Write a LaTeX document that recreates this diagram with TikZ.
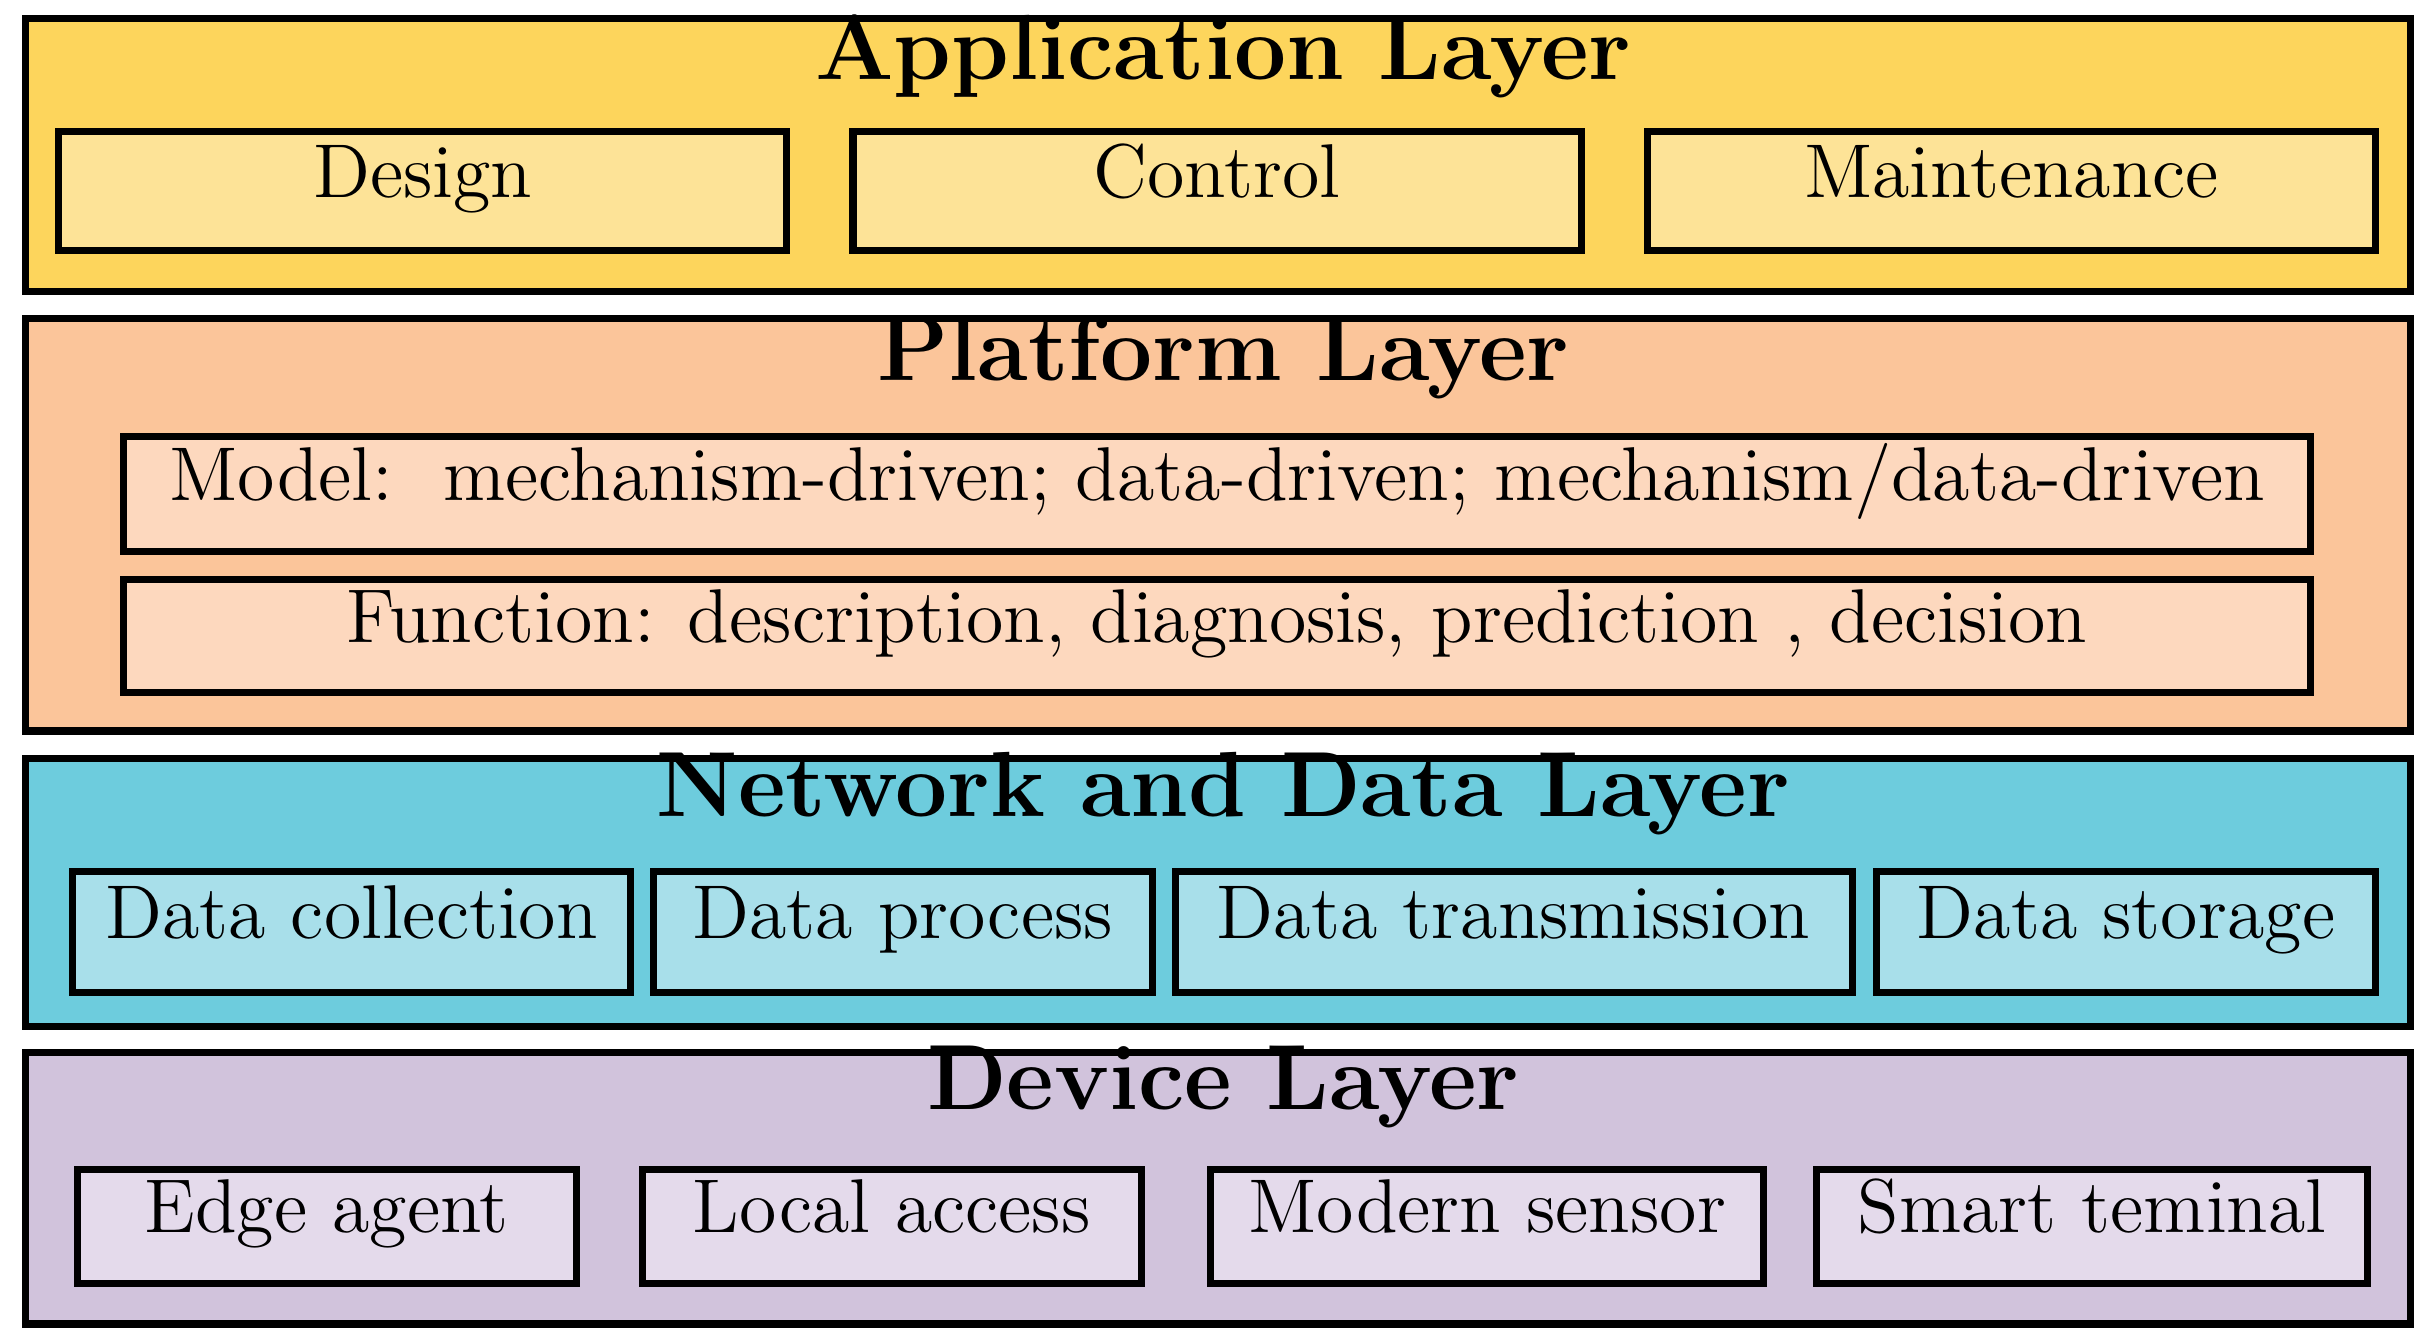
\documentclass[tikz,border=0pt]{standalone}
\usepackage{xcolor}
\usepackage{tikz}
\usetikzlibrary{positioning}
\definecolor{appbg}{HTML}{FDD55C}
\definecolor{appbox}{HTML}{FDE397}
\definecolor{platbg}{HTML}{FBC59A}
\definecolor{platbox}{HTML}{FDD8BE}
\definecolor{netbg}{HTML}{6DCCDD}
\definecolor{netbox}{HTML}{A8DFEA}
\definecolor{devbg}{HTML}{D1C3DC}
\definecolor{devbox}{HTML}{E4DAEB}
\tikzset{
  layer/.style={draw, line width=1.3pt, inner sep=0pt},
  title/.style={font=\fontsize{17}{20}\selectfont\bfseries, text height=1.2ex, text depth=0.75ex},
  item/.style={draw, line width=1.3pt, font=\fontsize{14}{17}\selectfont, inner sep=0pt, text height=1.3ex, text depth=0.75ex}
}
\begin{document}
\begin{tikzpicture}[x=0.01cm, y=-0.01cm]
\useasboundingbox (0,0) rectangle (1568,866);
% application
\node[layer, fill=appbg, minimum width=15.39cm, minimum height=1.76cm] (app) at (786.5,100) {};
\node[title] (apptitle) at (790,48) {Application Layer};
\node[item, fill=appbox, minimum width=4.7cm, minimum height=0.77cm] (design) at (273,123.5) {Design};
\node[item, fill=appbox, minimum width=4.7cm, minimum height=0.77cm] (control) at (786,123.5) {Control};
\node[item, fill=appbox, minimum width=4.7cm, minimum height=0.77cm] (maint) at (1299,123.5) {Maintenance};
% platform
\node[layer, fill=platbg, minimum width=15.39cm, minimum height=2.66cm] (plat) at (786.5,339) {};
\node[title] (plattitle) at (790,242) {Platform Layer};
\node[item, fill=platbox, minimum width=14.12cm, minimum height=0.74cm] (model) at (786,319) {Model:\ \ mechanism-driven; data-driven; mechanism/data-driven};
\node[item, fill=platbox, minimum width=14.12cm, minimum height=0.73cm] (func) at (786,410.5) {Function: description, diagnosis, prediction , decision};
% network and data
\node[layer, fill=netbg, minimum width=15.39cm, minimum height=1.73cm] (net) at (786.5,576.5) {};
\node[title] (nettitle) at (790,524) {Network and Data Layer};
\node[item, fill=netbox, minimum width=3.6cm, minimum height=0.78cm] (collect) at (227,602) {Data collection};
\node[item, fill=netbox, minimum width=3.22cm, minimum height=0.78cm] (process) at (583,602) {Data process};
\node[item, fill=netbox, minimum width=4.37cm, minimum height=0.78cm] (trans) at (977.5,602) {Data transmission};
\node[item, fill=netbox, minimum width=3.22cm, minimum height=0.78cm] (store) at (1373,602) {Data storage};
% device
\node[layer, fill=devbg, minimum width=15.39cm, minimum height=1.75cm] (dev) at (786.5,767.5) {};
\node[title] (devtitle) at (790,713) {Device Layer};
\node[item, fill=devbox, minimum width=3.22cm, minimum height=0.74cm] (edge) at (211,792) {Edge agent};
\node[item, fill=devbox, minimum width=3.22cm, minimum height=0.74cm] (local) at (576,792) {Local access};
\node[item, fill=devbox, minimum width=3.57cm, minimum height=0.74cm] (sensor) at (960.5,792) {Modern sensor};
\node[item, fill=devbox, minimum width=3.56cm, minimum height=0.74cm] (smart) at (1351,792) {Smart teminal};
\end{tikzpicture}
\end{document}
